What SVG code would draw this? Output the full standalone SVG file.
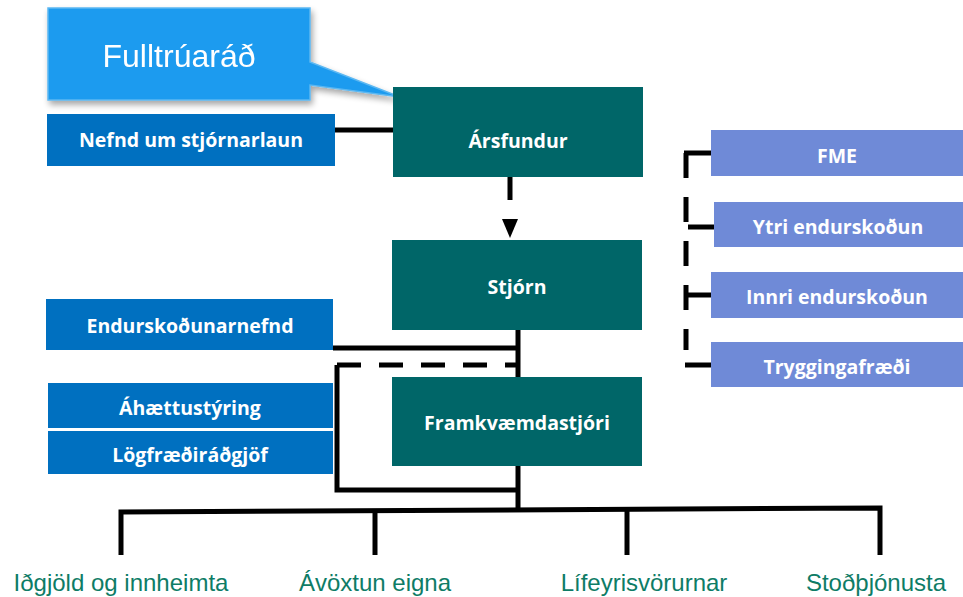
<svg xmlns="http://www.w3.org/2000/svg" width="963" height="597" viewBox="0 0 963 597">
<style>
.box text{font-family:"Open Sans",Lato,sans-serif;font-weight:bold;font-size:19.5px;fill:#fff;text-anchor:middle;dominant-baseline:central}
.teal{fill:#006668}
.blue{fill:#0070C0}
.lav{fill:#6F8AD7}
.lbl{font-family:"Liberation Sans",Arial,sans-serif;font-size:24px;fill:#0E7C66;text-anchor:middle}
.ln{stroke:#000;stroke-width:5;fill:none}
.dash{stroke-dasharray:24 18}
</style>
<defs>
<filter id="sh" x="-10%" y="-10%" width="130%" height="140%">
<feGaussianBlur in="SourceAlpha" stdDeviation="3"/>
<feOffset dx="2" dy="4"/>
<feComponentTransfer><feFuncA type="linear" slope="0.35"/></feComponentTransfer>
<feMerge><feMergeNode/><feMergeNode in="SourceGraphic"/></feMerge>
</filter>
</defs>
<rect width="963" height="597" fill="#fff"/>

<g id="connectors">
<line class="ln" x1="335" y1="130" x2="393" y2="130"/>
<line x1="510" y1="177" x2="510" y2="200" stroke="#000" stroke-width="5"/>
<path d="M502,219 L518,219 L510,238 Z" fill="#000"/>
<line class="ln" x1="518" y1="330" x2="518" y2="377"/>
<line class="ln" x1="333" y1="348" x2="518" y2="348"/>
<line class="ln dash" x1="337" y1="365" x2="518" y2="365"/>
<polyline class="ln" points="337,365 337,490 518,490"/>
<line class="ln" x1="518" y1="466" x2="518" y2="511"/>
<polyline class="ln" points="121,555 121,512 880,508 880,555"/>
<line class="ln" x1="375" y1="512" x2="375" y2="555"/>
<line class="ln" x1="627" y1="510" x2="627" y2="555"/>
<path class="ln" d="M686,153 V350" stroke-dasharray="25 19"/>
<line class="ln" x1="684" y1="153" x2="711" y2="153"/>
<line class="ln" x1="688" y1="227" x2="714" y2="227"/>
<line class="ln" x1="686" y1="295" x2="711" y2="295"/>
<line class="ln" x1="685" y1="365" x2="711" y2="365"/>
</g>

<g id="fulltruarad" filter="url(#sh)">
<path d="M48,8 H310 V62 L400,97 L310,85 V100 H48 Z" fill="#1E9BEF" stroke="#5CB8F2" stroke-width="1.5"/>
<text x="179" y="67" font-family="Liberation Sans,Arial,sans-serif" font-size="32" fill="#fff" text-anchor="middle">Fulltrúaráð</text>
</g>

<g id="nefnd" class="box"><rect class="blue" x="47" y="114" width="288" height="52"/><text x="191" y="139">Nefnd um stjórnarlaun</text></g>
<g id="arsfundur" class="box"><rect class="teal" x="393" y="87" width="250" height="90"/><text x="518" y="140">Ársfundur</text></g>
<g id="stjorn" class="box"><rect class="teal" x="392" y="240" width="250" height="90"/><text x="517" y="286">Stjórn</text></g>
<g id="endurskodunarnefnd" class="box"><rect class="blue" x="46" y="299" width="287" height="51"/><text x="190" y="325">Endurskoðunarnefnd</text></g>
<g id="framkvaemdastjori" class="box"><rect class="teal" x="392" y="377" width="250" height="89"/><text x="517" y="422">Framkvæmdastjóri</text></g>
<g id="ahaettustyring" class="box"><rect class="blue" x="48" y="383" width="285" height="45"/><text x="190" y="407">Áhættustýring</text></g>
<g id="logfraedi" class="box"><rect class="blue" x="48" y="431" width="285" height="43"/><text x="190" y="454">Lögfræðiráðgjöf</text></g>

<g id="fme" class="box"><rect class="lav" x="711" y="130" width="252" height="46"/><text x="837" y="155">FME</text></g>
<g id="ytri" class="box"><rect class="lav" x="714" y="202" width="249" height="45"/><text x="838" y="226">Ytri endurskoðun</text></g>
<g id="innri" class="box"><rect class="lav" x="711" y="272" width="252" height="46"/><text x="837" y="296">Innri endurskoðun</text></g>
<g id="tryggingafraedi" class="box"><rect class="lav" x="711" y="342" width="252" height="45"/><text x="837" y="366">Tryggingafræði</text></g>

<g id="labels">
<text class="lbl" x="121" y="591">Iðgjöld og innheimta</text>
<text class="lbl" x="375" y="591">Ávöxtun eigna</text>
<text class="lbl" x="644" y="591">Lífeyrisvörurnar</text>
<text class="lbl" x="876" y="591">Stoðþjónusta</text>
</g>
</svg>
